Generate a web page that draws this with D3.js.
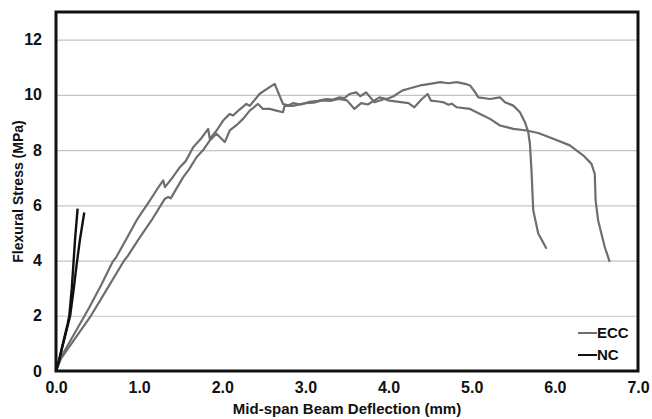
<!DOCTYPE html>
<html>
<head>
<meta charset="utf-8">
<script src="https://cdn.jsdelivr.net/npm/d3@7"></script>
<style>
  body { margin: 0; background: #fff; }
  text { font-family: "Liberation Sans", Arial, sans-serif; font-weight: bold; fill: #111; }
</style>
</head>
<body>
<svg class="chart" width="652" height="419"></svg>
<script>
var xTicks = [0, 1, 2, 3, 4, 5, 6, 7];
var yTicks = [0, 2, 4, 6, 8, 10, 12];
var seriesNames = ['ECC', 'NC'];

// ECC specimen 1: [deflection mm, stress MPa]
var ecc1 = [[0,0],[0.06,0.5],[0.4,2.3],[0.55,3.15],[0.68,3.95],[0.72,4.1],[0.85,4.8],[0.97,5.46],
  [1.13,6.18],[1.22,6.6],[1.29,6.9],[1.31,6.66],[1.4,7.0],[1.49,7.38],[1.56,7.6],[1.65,8.1],[1.74,8.4],[1.83,8.77],
  [1.85,8.41],[1.93,8.7],[2.01,9.07],[2.09,9.31],[2.13,9.25],[2.2,9.45],[2.29,9.67],[2.33,9.6],[2.45,10.04],
  [2.57,10.28],[2.63,10.4],[2.73,9.67],[2.8,9.62],[2.85,9.7],[2.95,9.65],[3.05,9.75],[3.15,9.78],[3.25,9.85],
  [3.33,9.83],[3.41,9.91],[3.47,9.88],[3.53,10.03],[3.61,10.09],[3.66,9.95],[3.73,10.09],[3.83,9.73],
  [3.95,9.85],[4.01,9.79],[4.17,9.73],[4.24,9.7],[4.31,9.55],[4.4,9.85],[4.47,10.03],[4.51,9.79],[4.6,9.76],
  [4.66,9.73],[4.72,9.64],[4.76,9.68],[4.82,9.55],[4.98,9.49],[5.1,9.31],[5.22,9.13],[5.34,8.89],[5.42,8.83],
  [5.5,8.77],[5.66,8.71],[5.8,8.62],[5.98,8.41],[6.18,8.17],[6.34,7.81],[6.44,7.5],[6.48,7.14],[6.49,6.18],
  [6.52,5.46],[6.6,4.49],[6.66,3.95]];

// ECC specimen 2
var ecc2 = [[0,0],[0.06,0.45],[0.42,2.0],[0.62,3.0],[0.82,4.0],[0.86,4.15],[1.0,4.8],[1.15,5.46],
  [1.31,6.24],[1.35,6.3],[1.38,6.25],[1.53,7.02],[1.6,7.3],[1.69,7.74],[1.77,8.0],[1.85,8.35],[1.93,8.59],
  [2.03,8.29],[2.09,8.71],[2.17,8.9],[2.25,9.13],[2.33,9.43],[2.43,9.67],[2.49,9.49],[2.57,9.49],[2.65,9.43],
  [2.73,9.37],[2.75,9.61],[2.85,9.6],[3.0,9.7],[3.1,9.72],[3.2,9.8],[3.3,9.78],[3.4,9.85],[3.5,9.8],
  [3.59,9.49],[3.67,9.7],[3.75,9.65],[3.89,9.91],[3.98,9.85],[4.06,9.95],[4.13,10.09],[4.17,10.16],
  [4.26,10.24],[4.38,10.34],[4.5,10.4],[4.62,10.46],[4.72,10.42],[4.82,10.46],[4.92,10.4],[4.98,10.34],
  [5.04,10.1],[5.08,9.91],[5.22,9.85],[5.34,9.91],[5.4,9.73],[5.5,9.61],[5.58,9.37],[5.64,9.01],[5.68,8.65],
  [5.7,8.23],[5.72,7.2],[5.74,5.82],[5.8,4.98],[5.9,4.43]];

// NC specimens
var nc1 = [[0,0],[0.03,0.3],[0.06,0.7],[0.1,1.2],[0.14,1.7],[0.16,2.0],[0.19,3.0],[0.21,3.9],[0.23,4.8],[0.26,5.88]];
var nc2 = [[0,0],[0.03,0.3],[0.07,0.8],[0.12,1.4],[0.17,2.0],[0.21,2.9],[0.25,3.9],[0.29,4.8],[0.34,5.74]];

var colors = { ECC: '#6e6e6e', NC: '#111111' };

var margin = {top: 12, right: 14, bottom: 48, left: 56},
    width = 652 - margin.left - margin.right,
    height = 419 - margin.top - margin.bottom;

var x = d3.scaleLinear().domain([0, 7]).range([0, width]);
var y = d3.scaleLinear().domain([0, 13]).range([height, 0]);

var svg = d3.select('.chart');
var chart = svg.append('g')
    .attr('transform', 'translate(' + margin.left + ',' + margin.top + ')');

// gridlines
chart.append('g')
    .call(d3.axisLeft(y).tickValues(yTicks.slice(1)).tickSize(-width).tickFormat(''))
    .call(function(g) {
      g.select('.domain').remove();
      g.selectAll('line').attr('stroke', '#c4c4c4').attr('stroke-width', 1.2);
    });

// y axis labels
chart.append('g')
    .call(d3.axisLeft(y).tickValues(yTicks).tickSize(0).tickPadding(14).tickFormat(d3.format('d')))
    .call(function(g) {
      g.select('.domain').remove();
      g.selectAll('text').style('font-size', '16px').style('font-family', '"Liberation Sans", Arial, sans-serif').style('font-weight', 'bold');
    });

// x axis labels
chart.append('g')
    .attr('transform', 'translate(0,' + height + ')')
    .call(d3.axisBottom(x).tickValues(xTicks).tickSize(0).tickPadding(11).tickFormat(d3.format('.1f')))
    .call(function(g) {
      g.select('.domain').remove();
      g.selectAll('text').style('font-size', '16px').style('font-family', '"Liberation Sans", Arial, sans-serif').style('font-weight', 'bold');
    });

var line = d3.line()
    .x(function(d) { return x(d[0]); })
    .y(function(d) { return y(d[1]); });

[ecc1, ecc2].forEach(function(s) {
  chart.append('path').datum(s)
      .attr('d', line)
      .attr('fill', 'none')
      .attr('stroke', colors.ECC)
      .attr('stroke-width', 2.2)
      .attr('stroke-linejoin', 'round');
});

[nc1, nc2].forEach(function(s) {
  chart.append('path').datum(s)
      .attr('d', line)
      .attr('fill', 'none')
      .attr('stroke', colors.NC)
      .attr('stroke-width', 2.4)
      .attr('stroke-linejoin', 'round');
});

// frame
chart.append('rect')
    .attr('width', width)
    .attr('height', height)
    .attr('fill', 'none')
    .attr('stroke', '#111')
    .attr('stroke-width', 3);

// legend
var legend = chart.selectAll('.legend')
    .data(seriesNames)
  .enter().append('g')
    .attr('transform', function(d, i) { return 'translate(' + (width - 60) + ',' + (height - 38 + i * 22) + ')'; });

legend.append('line')
    .attr('x1', 0).attr('x2', 19)
    .attr('stroke', function(d) { return colors[d]; })
    .attr('stroke-width', 2);

legend.append('text')
    .attr('x', 19)
    .attr('dy', '0.36em')
    .style('font-size', '15px')
    .text(function(d) { return d; });

// axis titles
svg.append('text')
    .attr('x', margin.left + width / 2)
    .attr('y', 414)
    .attr('text-anchor', 'middle')
    .style('font-size', '15px')
    .text('Mid-span Beam Deflection (mm)');

svg.append('text')
    .attr('transform', 'translate(23,' + (margin.top + height / 2) + ') rotate(-90)')
    .attr('text-anchor', 'middle')
    .style('font-size', '14px')
    .text('Flexural Stress (MPa)');
</script>
</body>
</html>
